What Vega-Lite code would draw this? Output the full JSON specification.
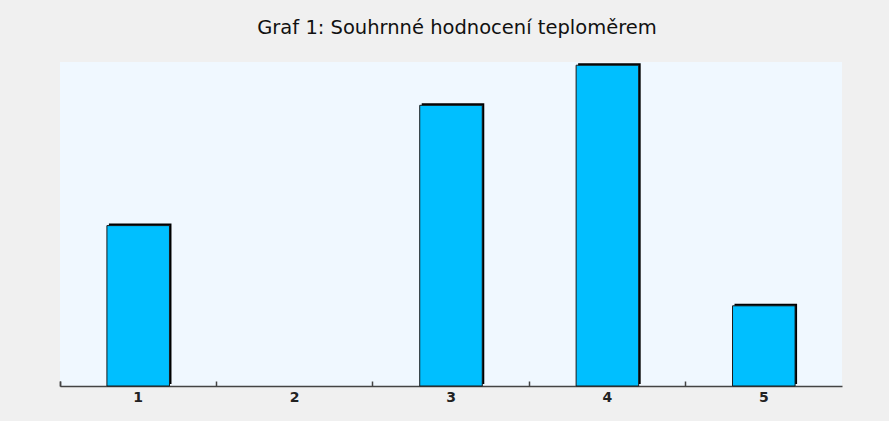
{
  "$schema": "https://vega.github.io/schema/vega-lite/v6.json",
  "width": 782,
  "height": 324,
  "autosize": "none",
  "padding": {"left": 60, "top": 62, "right": 47, "bottom": 35},
  "background": "#F0F0F0",
  "title": {
    "text": "Graf 1: Souhrnné hodnocení teploměrem",
    "font": "DejaVu Sans",
    "fontSize": 19.5,
    "fontWeight": "normal",
    "color": "#111111",
    "anchor": "middle",
    "dx": 6,
    "offset": 24
  },
  "config": {
    "view": {"fill": "#F0F8FF", "stroke": null}
  },
  "data": {
    "values": [
      {"kategorie": "1", "pocet": 4},
      {"kategorie": "2", "pocet": 0},
      {"kategorie": "3", "pocet": 7},
      {"kategorie": "4", "pocet": 8},
      {"kategorie": "5", "pocet": 2}
    ]
  },
  "encoding": {
    "x": {
      "field": "kategorie",
      "type": "ordinal",
      "title": null,
      "scale": {"domain": ["1", "2", "3", "4", "5"], "paddingInner": 0, "paddingOuter": 0},
      "axis": {
        "labelAngle": 0,
        "labelFont": "DejaVu Sans",
        "labelFontWeight": "bold",
        "labelFontSize": 14,
        "labelColor": "#222222",
        "labelPadding": 9,
        "bandPosition": 0,
        "tickExtra": true,
        "tickSize": -5,
        "tickColor": "#444444",
        "tickWidth": 1.5,
        "domainColor": "#444444",
        "domainWidth": 1.5,
        "grid": false
      }
    },
    "y": {
      "field": "pocet",
      "type": "quantitative",
      "scale": {"domain": [0, 8.08], "nice": false, "zero": true},
      "axis": null
    }
  },
  "layer": [
    {
      "transform": [{"filter": "datum.pocet > 0"}],
      "mark": {"type": "bar", "width": {"band": 0.4}, "color": "#000000", "xOffset": 2, "yOffset": -2}
    },
    {
      "transform": [{"filter": "datum.pocet > 0"}],
      "mark": {"type": "bar", "width": {"band": 0.4}, "color": "#00BFFF", "stroke": "#1a1a1a", "strokeWidth": 1}
    }
  ]
}
